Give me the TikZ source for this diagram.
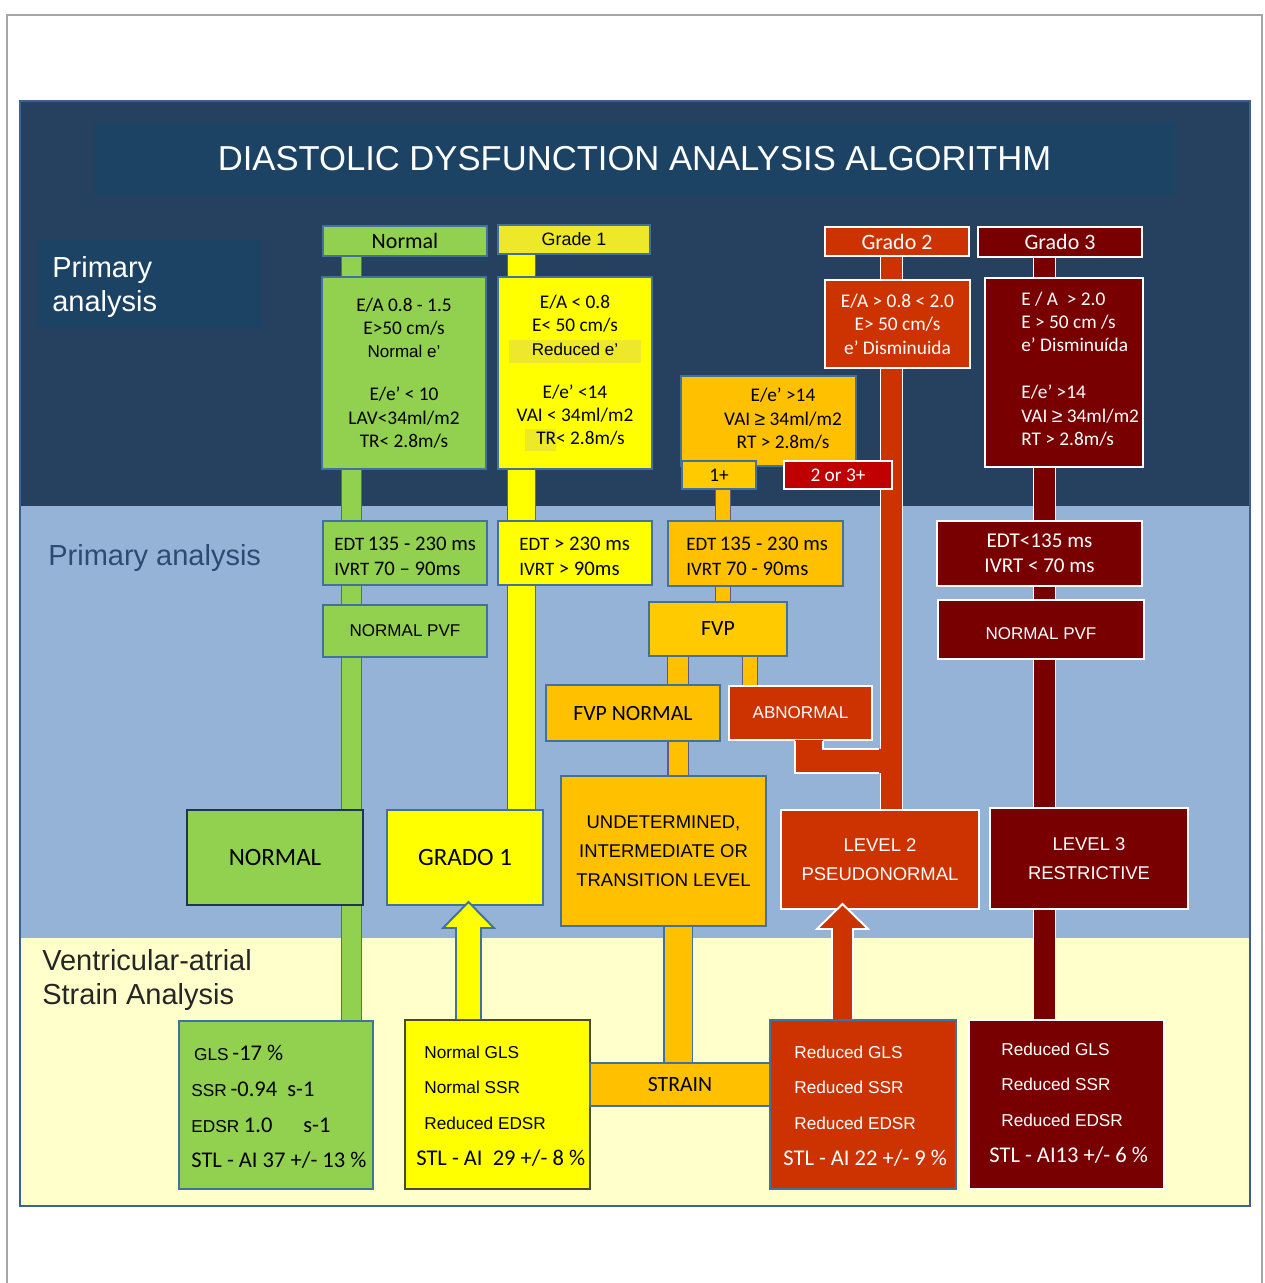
\documentclass[tikz,border=0pt]{standalone}
\usepackage{fontspec}
\setmainfont{Liberation Sans}
\newfontfamily\calfont{Carlito}
\newfontfamily\arfont{Liberation Sans}
\usetikzlibrary{calc}
\definecolor{navy}{HTML}{26405F}
\definecolor{banner}{HTML}{1C4264}
\definecolor{lblue}{HTML}{95B3D7}
\definecolor{cream}{HTML}{FFFFCC}
\definecolor{pframe}{HTML}{3C6090}
\definecolor{bdr}{HTML}{41719C}
\definecolor{navyb}{HTML}{1F3550}
\definecolor{olivb}{HTML}{4A4A30}
\definecolor{cgreen}{HTML}{92D050}
\definecolor{cyel}{HTML}{FFFF00}
\definecolor{hyel}{HTML}{EEE82A}
\definecolor{corange}{HTML}{FFC000}
\definecolor{lorange}{HTML}{FFCA00}
\definecolor{cred}{HTML}{CC3300}
\definecolor{bred}{HTML}{C00000}
\definecolor{dred}{HTML}{790000}
\definecolor{pbdr}{HTML}{5F5A8C}
\definecolor{graytxt}{HTML}{2B4B73}
\newcommand\fz[2]{\fontsize{#1pt}{#2pt}\selectfont}
\newcommand\BX[7]{\node[#6, minimum width={(#4-#2)*0.02cm}, minimum height={(#5-#3)*0.02cm}] (#1) at ({(#2+#4)/2},{(#3+#5)/2}) {#7};}
\pgfdeclarelayer{bg}
\pgfdeclarelayer{bars}
\pgfsetlayers{bg,bars,main}
\tikzset{
  box/.style={draw=bdr, line width=1.1pt, inner sep=0pt, align=center, text=black},
  gbox/.style={box, fill=cgreen},
  ybox/.style={box, fill=cyel},
  obox/.style={box, fill=corange},
  rbox/.style={box, draw=white, fill=cred, text=white},
  dbox/.style={box, draw=white, fill=dred, text=white},
  txt/.style={anchor=west, inner sep=0pt, align=left},
  bar/.style n args={3}{draw=#1, line width=0.6pt, double=#2, double distance=#3},
}
\begin{document}
\begin{tikzpicture}[x=0.02cm, y=-0.02cm]
\useasboundingbox (0,0) rectangle (1264,1283);
\begin{pgfonlayer}{bg}
\fill[white] (0,0) rectangle (1264,1283);
\draw[gray!70, line width=0.6pt] (7,1283) -- (7,15) -- (1262,15) -- (1262,1283);
\fill[navy] (20,101) rectangle (1250,506);
\fill[lblue] (20,506) rectangle (1250,938);
\fill[cream] (20,938) rectangle (1250,1206);
\draw[pframe, line width=1.5pt] (20,101) rectangle (1250,1206);
\end{pgfonlayer}

% titles
\BX{banner}{94}{122}{1175}{196}{fill=banner, inner sep=0pt, text=white, font=\fz{19.7}{23}}{DIASTOLIC DYSFUNCTION ANALYSIS ALGORITHM}
\BX{pbox}{38}{240}{262}{328}{fill=banner, inner sep=0pt}{}
\node[txt, text=white, font=\fz{16.5}{19.3}] (ptxt) at (52,287) {Primary\\analysis};
\node[txt, text=graytxt, font=\fz{16.5}{19.3}] (p2) at (48,558) {Primary analysis};
\node[txt, text=black!85, font=\fz{16.5}{19.3}] (va) at (42,980) {Ventricular-atrial\\Strain Analysis};

% green column
\BX{nhead}{323}{226}{487}{256}{gbox, font=\calfont\fz{12.5}{14}}{Normal}
\BX{nmain}{322}{277}{486}{469}{gbox, font=\calfont\fz{11}{13.3}}{E/A 0.8 - 1.5\\E>50 cm/s\\{\arfont\fz{9.7}{13.3}Normal e’}\\[11pt]E/e’ < 10\\LAV<34ml/m2\\TR< 2.8m/s}
\BX{nedt}{323}{521}{487}{585}{gbox}{}
\node[txt, font=\calfont\fz{11.8}{14.2}] (nedt-t) at (334,556) {{\fz{10.8}{14.2}EDT}\,135 - 230 ms\\{\fz{10.8}{14.2}IVRT} 70 – 90ms};
\BX{npvf}{323}{605}{487}{657}{gbox, font=\fz{9.7}{12}}{NORMAL PVF}
\BX{nnorm}{187}{810}{363}{905}{gbox, draw=navyb, font=\calfont\fz{14.2}{16}}{NORMAL}
\BX{nbot}{179}{1021}{373}{1189}{gbox}{}
\node[txt, font=\fz{9.8}{20.4}] (nbot-t) at (191,1107) {\,GLS{\calfont\fz{12.8}{20.4}\,-17 \%}\\SSR{\calfont\fz{12.8}{20.4}\,-0.94\ \ s-1}\\EDSR {\calfont\fz{12.8}{20.4}1.0\hspace{0.62cm}s-1}\\{\calfont\fz{12.8}{20.4}STL - AI 37 +/- 13 \%}};

% yellow column
\BX{g1head}{498}{225}{650}{254}{box, fill=hyel, font=\fz{10.2}{12}}{Grade 1}
\BX{g1main}{498}{277}{652}{469}{ybox, font=\calfont\fz{11}{13.3}}{E/A < 0.8\\E< 50 cm/s\\{\setlength\fboxsep{0pt}\colorbox{hyel}{\makebox[2.64cm]{\rule[-1.6mm]{0pt}{4.6mm}\arfont\fz{9.7}{13.3}Reduced e’}}}\\[11pt]E/e’ <14\\VAI < 34ml/m2\\{\setlength\fboxsep{0pt}\colorbox{hyel}{\hspace{2.2mm}TR\rule[-1.2mm]{0pt}{4.4mm}}}< 2.8m/s}
\BX{g1edt}{498}{521}{652}{585}{ybox}{}
\node[txt, font=\calfont\fz{11.8}{14.2}] (g1edt-t) at (519,556) {{\fz{10.8}{14.2}EDT} > 230 ms\\{\fz{10.8}{14.2}IVRT} > 90ms};
\BX{grado1}{387}{810}{543}{905}{ybox, font=\calfont\fz{14.2}{16}}{GRADO 1}
\BX{g1bot}{405}{1020}{590}{1189}{ybox, draw=olivb}{}
\node[txt, font=\fz{9.8}{20.4}] (g1bot-t) at (424,1106) {Normal GLS\\Normal SSR\\Reduced EDSR\\\hspace*{-0.16cm}{\calfont\fz{12.8}{20.4}STL - AI\ \ 29 +/- 8 \%}};

% orange column
\BX{omain}{681}{376}{856}{466}{obox, font=\calfont\fz{11}{13.3}}{\hspace*{0.58cm}E/e’ >14\\\hspace*{0.58cm}VAI {\arfont ≥} 34ml/m2\\\hspace*{0.58cm}RT > 2.8m/s\rule[-3pt]{0pt}{1pt}}
\BX{one}{682}{461}{756}{489}{box, fill=lorange, font=\calfont\fz{11}{13}}{1+}
\BX{two3}{784}{461}{892}{489}{box, draw=white, fill=bred, text=white, font=\calfont\fz{11}{13}}{2 or 3+}
\BX{oedt}{668}{521}{843}{586}{obox}{}
\node[txt, font=\calfont\fz{11.8}{14.2}] (oedt-t) at (686,556) {{\fz{10.8}{14.2}EDT}\,135 - 230 ms\\{\fz{10.8}{14.2}IVRT} 70 - 90ms};
\BX{fvp}{649}{602}{787}{656}{box, fill=lorange, font=\calfont\fz{12.4}{14}}{FVP}
\BX{fvpn}{546}{685}{720}{741}{obox, font=\calfont\fz{12.4}{14}}{FVP NORMAL}
\BX{abn}{729}{686}{872}{740}{rbox, font=\fz{9.7}{12}}{ABNORMAL}
\BX{und}{561}{776}{766}{926}{obox, font=\fz{10.5}{16.4}}{UNDETERMINED,\\INTERMEDIATE OR\\TRANSITION LEVEL}
\BX{strain}{590}{1063}{770}{1106}{obox, font=\calfont\fz{12.4}{14}}{STRAIN}

% red column
\BX{g2head}{825}{227}{969}{256}{rbox, font=\calfont\fz{12.5}{14}}{Grado 2}
\BX{g2main}{825}{280}{970}{368}{rbox, font=\calfont\fz{11}{13.3}}{E/A > 0.8 < 2.0\\E> 50 cm/s\\e’ Disminuida}
\BX{lvl2}{781}{810}{979}{909}{rbox, font=\fz{10.5}{16.4}}{LEVEL 2\\PSEUDONORMAL}
\BX{g2bot}{770}{1020}{956}{1189}{box, fill=cred}{}
\node[txt, text=white, font=\fz{9.8}{20.4}] (g2bot-t) at (794,1106) {Reduced GLS\\Reduced SSR\\Reduced EDSR\\\hspace*{-0.22cm}{\calfont\fz{12.8}{20.4}STL - AI 22 +/- 9 \%}};

% dark red column
\BX{g3head}{978}{227}{1142}{257}{dbox, font=\calfont\fz{12.5}{14}}{Grado 3}
\BX{g3main}{985}{278}{1143}{467}{dbox}{}
\node[txt, text=white, font=\calfont\fz{11}{13.3}] (g3main-t) at (1021,369) {E / A\ \ > 2.0\\E > 50 cm /s\\e’ Disminuída\\[13.3pt]E/e’ >14\\VAI {\arfont ≥} 34ml/m2\\RT > 2.8m/s};
\BX{g3edt}{937}{521}{1142}{586}{dbox, font=\calfont\fz{12}{14.2}}{EDT<135 ms\\IVRT < 70 ms}
\BX{g3pvf}{938}{600}{1144}{659}{dbox, font=\fz{9.7}{12}}{\rule{0pt}{12pt}NORMAL PVF}
\BX{lvl3}{990}{808}{1188}{909}{dbox, font=\fz{10.5}{16.4}}{LEVEL 3\\RESTRICTIVE}
\BX{g3bot}{969}{1020}{1164}{1189}{dbox}{}
\node[txt, text=white, font=\fz{9.8}{20.4}] (g3bot-t) at (1001,1103) {Reduced GLS\\Reduced SSR\\Reduced EDSR\\\hspace*{-0.24cm}{\calfont\fz{12.8}{20.4}STL - AI13 +/- 6 \%}};

% bar axes
\coordinate (gx) at (351.5,0);
\coordinate (yx) at (521.5,0);
\coordinate (rx) at (891.5,0);
\coordinate (dx) at (1044.5,0);
\coordinate (ox1) at (723,0);
\coordinate (ox2) at (678,0);
\coordinate (ox3) at (750,0);
\coordinate (ax) at (468.5,0);
\coordinate (bx) at (842.5,0);

\begin{pgfonlayer}{bars}
\draw[bar={bdr}{cgreen}{0.38cm}] (nhead.south -| gx) -- (nbot.north -| gx);
\draw[bar={pbdr}{cyel}{0.54cm}] (g1head.south -| yx) -- (grado1.north -| yx);
\draw[bar={white}{cred}{0.42cm}] (g2head.south -| rx) -- (lvl2.north -| rx);
\draw[bar={white}{dred}{0.42cm}] (g3head.south -| dx) -- (g3bot.north -| dx);
\draw[bar={pbdr}{corange}{0.28cm}] (one.south -| ox1) -- (oedt.north -| ox1);
\draw[bar={pbdr}{corange}{0.28cm}] (oedt.south -| ox1) -- (fvp.north -| ox1);
\draw[bar={pbdr}{corange}{0.40cm}] (fvp.south -| ox2) -- (fvpn.north -| ox2);
\draw[bar={pbdr}{corange}{0.28cm}] (fvp.south -| ox3) -- (abn.north -| ox3);
\draw[bar={pbdr}{corange}{0.38cm}] (fvpn.south -| ox2) -- (und.north -| ox2);
\draw[bar={bdr}{corange}{0.54cm}] (und.south -| ox2) -- (strain.north -| ox2);
\end{pgfonlayer}

% L connector from ABNORMAL to the Grado 2 bar
\fill[cred] ($(abn.south west)+(67,-1)$) -- ($(abn.south west)+(95,-1)$) -- ($(abn.south west)+(95,8)$) -- ($(abn.south west)+(153,8)$) -- ($(abn.south west)+(153,32)$) -- ($(abn.south west)+(67,32)$) -- cycle;
\draw[white, line width=1.1pt] ($(abn.south west)+(67,0)$) -- ($(abn.south west)+(67,32)$) -- ($(abn.south west)+(151,32)$);
\draw[white, line width=1.1pt] ($(abn.south west)+(95,0)$) -- ($(abn.south west)+(95,8)$) -- ($(abn.south west)+(151,8)$);

% up arrows
\fill[cyel] let \p1=(grado1.south -| ax), \p2=(g1bot.north -| ax) in
  (\x2-0.25cm,\y2) -- (\x2-0.25cm,\y1-0.44cm) -- (\x1-0.51cm,\y1-0.44cm) -- (\x1,\y1+0.08cm) -- (\x1+0.51cm,\y1-0.44cm) -- (\x2+0.25cm,\y1-0.44cm) -- (\x2+0.25cm,\y2) -- cycle;
\draw[bdr, line width=1.1pt, line join=miter] let \p1=(grado1.south -| ax), \p2=(g1bot.north -| ax) in
  (\x2-0.25cm,\y2) -- (\x2-0.25cm,\y1-0.44cm) -- (\x1-0.51cm,\y1-0.44cm) -- (\x1,\y1+0.08cm) -- (\x1+0.51cm,\y1-0.44cm) -- (\x2+0.25cm,\y1-0.44cm) -- (\x2+0.25cm,\y2);
\fill[cred] let \p1=(lvl2.south -| bx), \p2=(g2bot.north -| bx) in
  (\x2-0.21cm,\y2) -- (\x2-0.21cm,\y1-0.38cm) -- (\x1-0.51cm,\y1-0.38cm) -- (\x1,\y1+0.12cm) -- (\x1+0.51cm,\y1-0.38cm) -- (\x2+0.21cm,\y1-0.38cm) -- (\x2+0.21cm,\y2) -- cycle;
\draw[white, line width=1.1pt, line join=miter] let \p1=(lvl2.south -| bx), \p2=(g2bot.north -| bx) in
  (\x2-0.21cm,\y2) -- (\x2-0.21cm,\y1-0.38cm) -- (\x1-0.51cm,\y1-0.38cm) -- (\x1,\y1+0.12cm) -- (\x1+0.51cm,\y1-0.38cm) -- (\x2+0.21cm,\y1-0.38cm) -- (\x2+0.21cm,\y2);
\end{tikzpicture}
\end{document}
